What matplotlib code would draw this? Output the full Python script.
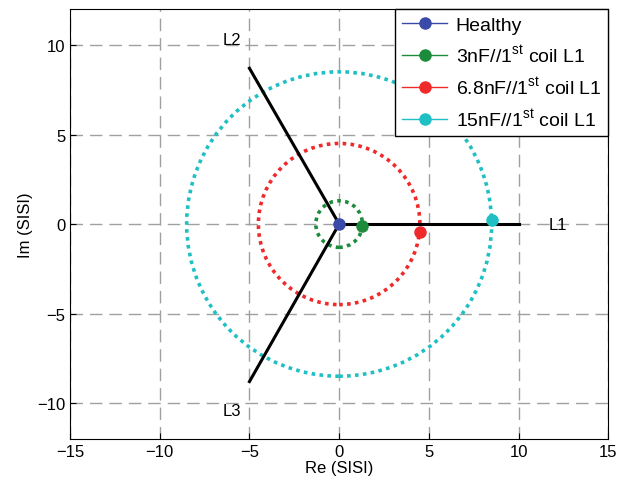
import matplotlib.pyplot as plt
from matplotlib.patches import Circle
from matplotlib.lines import Line2D

plt.rcParams['font.family'] = ['Liberation Sans', 'DejaVu Sans']
plt.rcParams['mathtext.fontset'] = 'custom'
plt.rcParams['mathtext.rm'] = 'Liberation Sans'

# phase axes (end points)
axis_names = ['L1', 'L2', 'L3']
axis_x = [10, -5, -5]
axis_y = [0, 8.7, -8.8]
label_x = [12.2, -6.0, -6.0]
label_y = [0, 10.3, -10.4]

# fault cases
names = ['Healthy', '3nF//1$^{\\mathrm{st}}$ coil L1',
         '6.8nF//1$^{\\mathrm{st}}$ coil L1', '15nF//1$^{\\mathrm{st}}$ coil L1']
colors = ['#3a4aa8', '#1c8c3c', '#f02a2a', '#1fc0c4']
radius = [0, 1.3, 4.5, 8.5]
pt_x = [0, 1.3, 4.5, 8.5]
pt_y = [0, -0.1, -0.45, 0.2]

fig = plt.figure(figsize=(6.2, 4.85), dpi=100)
ax = fig.add_axes([0.113, 0.093, 0.868, 0.886])

ax.grid(True, color='#a0a0a0', linestyle=(0, (9, 5)), linewidth=1.0)
ax.set_axisbelow(True)

for x, y in zip(axis_x, axis_y):
    ax.plot([0, x], [0, y], color='black', linewidth=2.2, zorder=3)
for n, x, y in zip(axis_names, label_x, label_y):
    ax.text(x, y, n, fontsize=12, ha='center', va='center', zorder=4)

for r, c in zip(radius, colors):
    if r > 0:
        ax.add_patch(Circle((0, 0), r, fill=False, edgecolor=c,
                            linestyle=(0, (1, 1.2)), linewidth=2.6, zorder=2))

for x, y, c in zip(pt_x, pt_y, colors):
    ax.plot(x, y, 'o', color=c, markersize=8, zorder=5)

ax.set_xlim(-15, 15)
ax.set_ylim(-12, 12)
ax.set_xticks(range(-15, 16, 5))
ax.set_yticks(range(-10, 11, 5))
ax.tick_params(direction='in', labelsize=12, length=4)
ax.set_xlabel('Re (SISI)', fontsize=12, labelpad=1)
ax.set_ylabel('Im (SISI)', fontsize=12, labelpad=3)

handles = [Line2D([], [], color=c, marker='o', markersize=8, linewidth=1)
           for c in colors]
leg = ax.legend(handles, names, loc='upper right', fontsize=14,
                fancybox=False, framealpha=1, edgecolor='black',
                borderaxespad=0, handlelength=2.3, labelspacing=0.5,
                handletextpad=0.45, borderpad=0.35)
leg.get_frame().set_linewidth(1.0)

fig.savefig('out.png')
